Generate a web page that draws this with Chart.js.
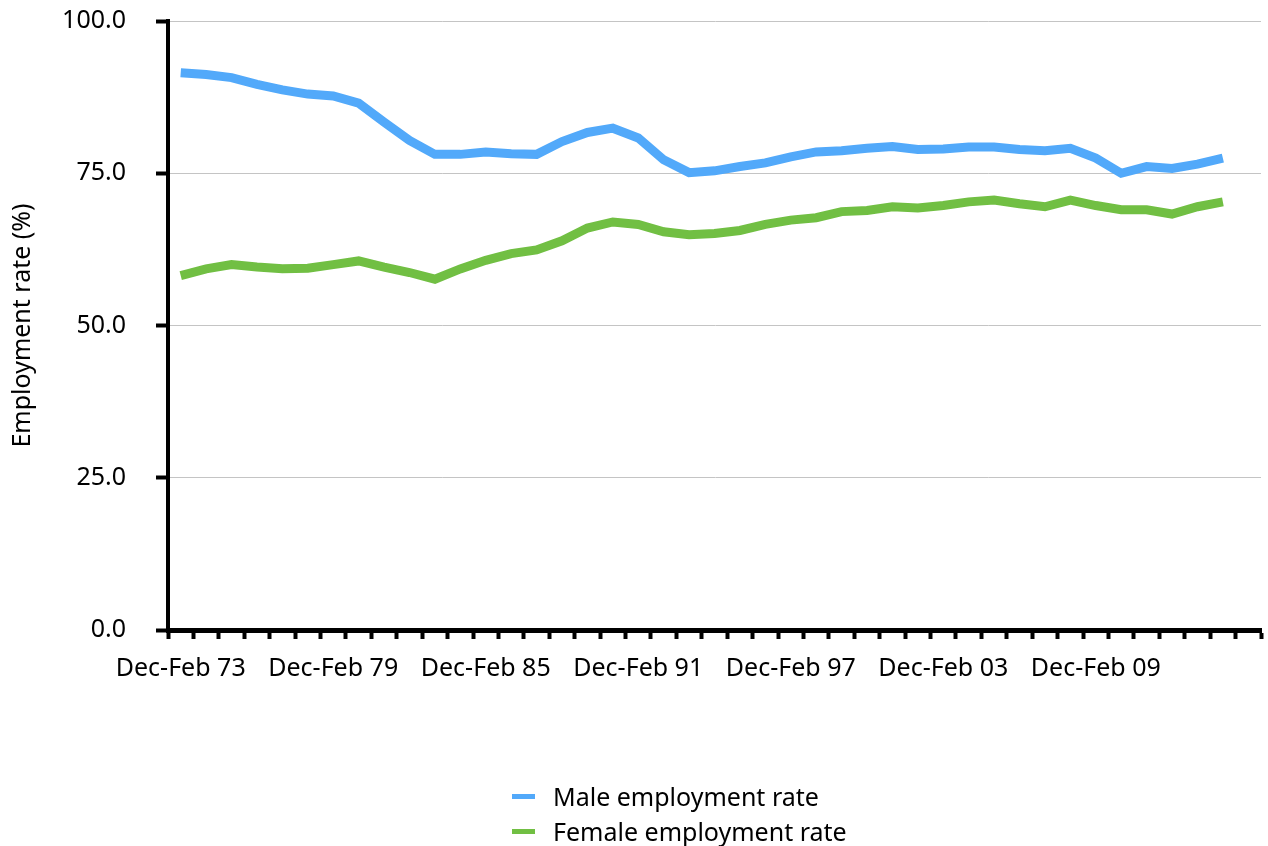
<!DOCTYPE html>
<html>
<head>
<meta charset="utf-8">
<script src="https://cdn.jsdelivr.net/npm/chart.js@4"></script>
<style>
  body { margin: 0; background: #fff; }
  #wrap { position: relative; width: 1268px; height: 846px; }
  .legend { position: absolute; left: 512px; top: 779px; font: 25px "Noto Sans"; color: #000; }
  .row { display: flex; align-items: center; height: 35px; line-height: 35px; white-space: nowrap; }
  .swatch { width: 23px; height: 5px; margin-right: 18px; }
</style>
</head>
<body>
<div id="wrap">
  <canvas id="myChart"></canvas>
  <div class="legend" id="legend"></div>
</div>
<script>
// years shown as "Dec-Feb YY"
const years = ['73','74','75','76','77','78','79','80','81','82','83','84','85','86',
  '87','88','89','90','91','92','93','94','95','96','97','98','99','00',
  '01','02','03','04','05','06','07','08','09','10','11','12','13','14'];
// one empty category at the end, like the original axis
const categories = years.map(y => 'Dec-Feb ' + y).concat(['']);

const maleRate = [91.5, 91.2, 90.7, 89.6, 88.7, 88.0, 87.7, 86.5, 83.4, 80.4,
  78.1, 78.1, 78.5, 78.2, 78.1, 80.2, 81.7, 82.4, 80.8, 77.2,
  75.1, 75.4, 76.1, 76.7, 77.7, 78.5, 78.7, 79.1, 79.4, 78.9,
  79.0, 79.3, 79.3, 78.9, 78.7, 79.1, 77.5, 75.0, 76.1, 75.8,
  76.5, 77.5];
const femaleRate = [58.2, 59.3, 60.0, 59.6, 59.3, 59.4, 60.0, 60.6, 59.6, 58.7,
  57.6, 59.3, 60.7, 61.8, 62.4, 63.9, 66.0, 67.0, 66.6, 65.4,
  64.9, 65.1, 65.6, 66.6, 67.3, 67.7, 68.7, 68.9, 69.5, 69.3,
  69.7, 70.3, 70.6, 70.0, 69.5, 70.6, 69.7, 69.0, 69.0, 68.3,
  69.5, 70.3];

const seriesNames = ['Male employment rate', 'Female employment rate'];
const seriesColors = ['#52A9FA', '#71BF43'];

const font = { family: '"Noto Sans", sans-serif', size: 25 };

const ctx = document.getElementById('myChart');

new Chart(ctx, {
  type: 'line',
  data: {
    labels: categories,
    datasets: [
      {
        label: seriesNames[0],
        data: maleRate,
        borderColor: seriesColors[0],
        backgroundColor: seriesColors[0],
        borderWidth: 9,
        pointRadius: 0,
        tension: 0
      },
      {
        label: seriesNames[1],
        data: femaleRate,
        borderColor: seriesColors[1],
        backgroundColor: seriesColors[1],
        borderWidth: 9,
        pointRadius: 0,
        tension: 0
      }
    ]
  },
  options: {
    responsive: true,
    maintainAspectRatio: false,
    animation: false,
    layout: {
      padding: { left: 2, right: 7, top: 21, bottom: 147 }
    },
    plugins: {
      legend: { display: false },
      tooltip: { enabled: false }
    },
    scales: {
      x: {
        offset: true,
        grid: {
          offset: true,
          drawOnChartArea: false,
          color: '#000',
          tickColor: '#000',
          tickLength: 9,
          tickWidth: 4
        },
        border: { color: '#000', width: 5 },
        ticks: {
          autoSkip: false,
          maxRotation: 0,
          padding: 15,
          color: '#000',
          font: font,
          callback: function (val, i) {
            return i % 6 === 0 ? this.getLabelForValue(val) : '';
          }
        }
      },
      y: {
        min: 0,
        max: 100,
        // fixed axis width, and no extra top/bottom room from the label padding
        afterFit: scale => {
          scale.width = 166;
          scale.paddingTop = 0;
          scale.paddingBottom = 0;
        },
        grid: {
          color: '#c4c4c4',
          lineWidth: 1,
          tickColor: '#000',
          tickLength: 12,
          tickWidth: 4
        },
        border: { color: '#000', width: 4 },
        ticks: {
          stepSize: 25,
          padding: 30,
          color: '#000',
          font: font,
          callback: v => v.toFixed(1)
        },
        title: {
          display: true,
          text: 'Employment rate (%)',
          color: '#000',
          font: font,
          padding: { top: 6, bottom: 0 }
        }
      }
    }
  }
});

// legend stacked in two rows under the chart
const legend = document.getElementById('legend');
seriesNames.forEach((name, i) => {
  const row = document.createElement('div');
  row.className = 'row';
  const sw = document.createElement('span');
  sw.className = 'swatch';
  sw.style.background = seriesColors[i];
  const txt = document.createElement('span');
  txt.textContent = name;
  row.appendChild(sw);
  row.appendChild(txt);
  legend.appendChild(row);
});
</script>
</body>
</html>
